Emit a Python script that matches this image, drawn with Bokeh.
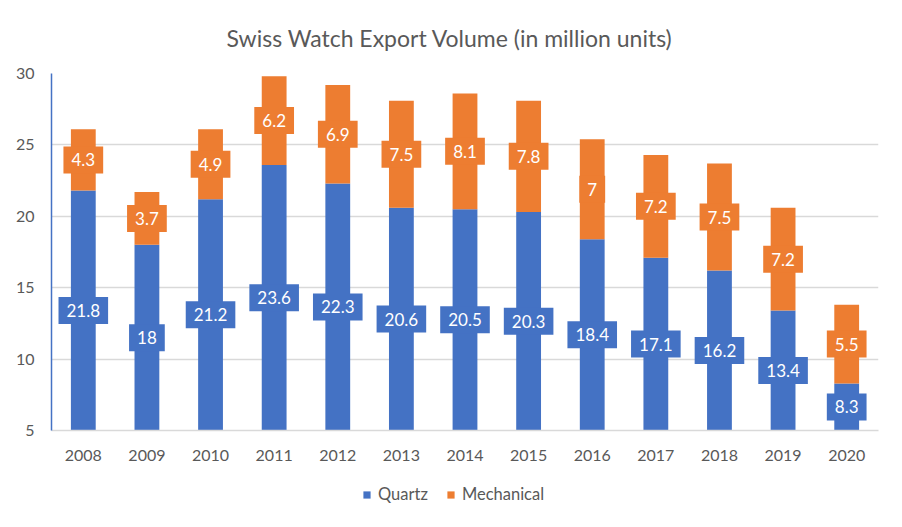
from bokeh.plotting import figure
from bokeh.layouts import column
from bokeh.models import ColumnDataSource, Legend, LegendItem, FixedTicker, Range1d
from bokeh.core.properties import value
from bokeh.embed import file_html
from bokeh.resources import INLINE

years = ["2008", "2009", "2010", "2011", "2012", "2013", "2014",
         "2015", "2016", "2017", "2018", "2019", "2020"]
quartz = [21.8, 18, 21.2, 23.6, 22.3, 20.6, 20.5, 20.3, 18.4, 17.1, 16.2, 13.4, 8.3]
mechanical = [4.3, 3.7, 4.9, 6.2, 6.9, 7.5, 8.1, 7.8, 7, 7.2, 7.5, 7.2, 5.5]
series_names = ["Quartz", "Mechanical"]
y_ticks = [5, 10, 15, 20, 25, 30]
y_min, y_max = 5, 30

BLUE = "#4472C4"
ORANGE = "#ED7D31"
GREY_TXT = "#595959"
GRID = "#D9D9D9"
FONT = "Lato"

def fmt(v):
    return ("%g" % v)

tops = [q + m for q, m in zip(quartz, mechanical)]
src = ColumnDataSource(dict(
    year=years, quartz=quartz, mech=mechanical, top=tops,
    q_lab=[fmt(v) for v in quartz], m_lab=[fmt(v) for v in mechanical],
    q_mid=[(max(y_min, 0) + q) / 2 for q in quartz],
    m_mid=[q + m / 2 for q, m in zip(quartz, mechanical)],
))

p = figure(x_range=years, frame_width=827, frame_height=357, output_backend="svg",
           toolbar_location=None, title="Swiss Watch Export Volume (in million units)",
           min_border_left=51, min_border_right=8, min_border_top=73, min_border_bottom=40)
p.y_range = Range1d(y_min, y_max)

p.title.align = "left"
p.title.offset = 175
p.title.text_font = FONT
p.title.text_font_size = "23px"
p.title.text_font_style = "normal"
p.title.text_color = GREY_TXT
p.title.standoff = 43

p.vbar(x="year", top="quartz", bottom=0, width=0.39, source=src,
       fill_color=BLUE, line_color=None)
p.vbar(x="year", top="top", bottom="quartz", width=0.39, source=src,
       fill_color=ORANGE, line_color=None)

p.text(x="year", y="q_mid", text="q_lab", source=src, text_align="center",
       text_baseline="middle", text_color="white", text_font=value(FONT),
       text_font_size="17px", background_fill_color=BLUE, padding=(8, 7))
p.text(x="year", y="m_mid", text="m_lab", source=src, text_align="center",
       text_baseline="middle", text_color="white", text_font=value(FONT),
       text_font_size="17px", background_fill_color=ORANGE, padding=(8, 7))

p.outline_line_color = None
p.xgrid.grid_line_color = None
p.ygrid.grid_line_color = GRID
p.ygrid.grid_line_width = 1.5
p.yaxis.ticker = FixedTicker(ticks=y_ticks)
p.yaxis.axis_line_color = BLUE
p.yaxis.axis_line_width = 1.5
p.xaxis.axis_line_color = GRID
p.xaxis.axis_line_width = 1.5
for ax in (p.xaxis, p.yaxis):
    ax.major_tick_line_color = None
    ax.minor_tick_line_color = None
    ax.major_label_text_font = FONT
    ax.major_label_text_font_size = "16px"
    ax.major_label_text_color = GREY_TXT
p.xaxis.major_label_standoff = 13
p.yaxis.major_label_standoff = 11

# legend strip below the chart (invisible zero-size bars from the same data)
pl = figure(width=886, height=48, output_backend="svg", toolbar_location=None,
            x_axis_location=None, y_axis_location=None, min_border=0,
            x_range=years, y_range=Range1d(-2, -1))
pl.outline_line_color = None
pl.grid.grid_line_color = None
lq = pl.vbar(x="year", top="quartz", bottom="quartz", width=0.0001, source=src,
             fill_color=BLUE, line_color=None)
lm = pl.vbar(x="year", top="top", bottom="top", width=0.0001, source=src,
             fill_color=ORANGE, line_color=None)
legend = Legend(items=[LegendItem(label=series_names[0], renderers=[lq]),
                       LegendItem(label=series_names[1], renderers=[lm])],
                orientation="horizontal", location=(311, 14),
                glyph_width=9, glyph_height=9, label_text_font=FONT,
                label_text_font_size="16.5px", label_text_color=GREY_TXT,
                border_line_color=None, background_fill_alpha=0,
                spacing=18, label_standoff=7, padding=0, margin=0)
pl.add_layout(legend, "center")

layout = column(p, pl, spacing=0)
open("out.html", "w").write(file_html(layout, INLINE))
